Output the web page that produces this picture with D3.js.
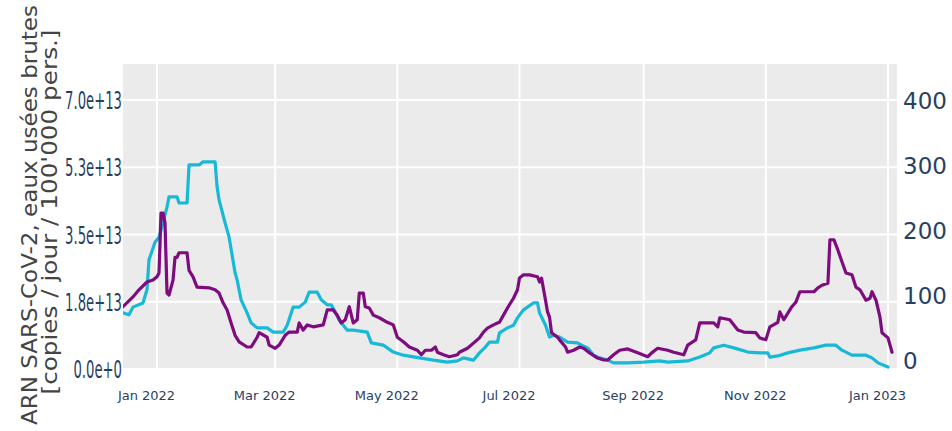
<!DOCTYPE html>
<html><head><meta charset="utf-8">
<script src="https://cdn.jsdelivr.net/npm/d3@7"></script>
<style>body{margin:0;background:#fff}</style>
</head><body>
<svg id="c" width="952" height="431"></svg>
<script>
// ---------- DATA ----------
// Cyan series: SARS-CoV-2 RNA in raw wastewater (left axis, copies/day/100'000)
const rnaDates = [
 "2021-12-15","2021-12-18","2021-12-20","2021-12-25","2021-12-27","2021-12-28","2021-12-31",
 "2022-01-02","2022-01-04","2022-01-06","2022-01-07","2022-01-11","2022-01-12","2022-01-16","2022-01-17","2022-01-22","2022-01-24","2022-01-30","2022-01-31",
 "2022-02-01","2022-02-04","2022-02-06","2022-02-09","2022-02-10","2022-02-12","2022-02-15","2022-02-17","2022-02-20","2022-02-25","2022-02-28",
 "2022-03-05","2022-03-07","2022-03-10","2022-03-13","2022-03-16","2022-03-18","2022-03-22","2022-03-24","2022-03-27","2022-03-29","2022-03-31",
 "2022-04-02","2022-04-06","2022-04-09","2022-04-16","2022-04-18","2022-04-24","2022-04-29",
 "2022-05-04","2022-05-12","2022-05-19","2022-05-26","2022-05-31",
 "2022-06-03","2022-06-08","2022-06-11","2022-06-14","2022-06-16","2022-06-20","2022-06-21","2022-06-25","2022-06-28","2022-06-30",
 "2022-07-03","2022-07-05","2022-07-08","2022-07-10","2022-07-11","2022-07-14","2022-07-16","2022-07-18","2022-07-21","2022-07-25","2022-07-30",
 "2022-08-01","2022-08-04","2022-08-07","2022-08-10","2022-08-14","2022-08-17","2022-08-24",
 "2022-09-01","2022-09-09","2022-09-13","2022-09-23","2022-09-29",
 "2022-10-04","2022-10-06","2022-10-11","2022-10-16","2022-10-23","2022-10-29",
 "2022-11-02","2022-11-03","2022-11-07","2022-11-12","2022-11-18","2022-11-25",
 "2022-12-01","2022-12-06","2022-12-09","2022-12-14","2022-12-21","2022-12-24","2022-12-27",
 "2023-01-01"
];
const rnaValues = [
 1.46e13,1.41e13,1.61e13,1.72e13,2.06e13,2.84e13,3.30e13,
 3.43e13,3.80e13,4.22e13,4.48e13,4.48e13,4.32e13,4.32e13,5.31e13,5.31e13,5.39e13,5.39e13,4.74e13,
 4.40e13,3.80e13,3.43e13,2.50e13,2.32e13,1.80e13,1.46e13,1.20e13,1.07e13,1.07e13,0.96e13,
 0.96e13,1.14e13,1.61e13,1.61e13,1.74e13,2.00e13,2.00e13,1.80e13,1.67e13,1.67e13,1.48e13,
 1.27e13,1.01e13,1.01e13,0.96e13,0.68e13,0.62e13,0.44e13,
 0.36e13,0.29e13,0.23e13,0.18e13,0.21e13,
 0.29e13,0.23e13,0.42e13,0.57e13,0.70e13,0.70e13,0.94e13,1.07e13,1.14e13,1.33e13,
 1.54e13,1.61e13,1.72e13,1.72e13,1.46e13,1.14e13,0.83e13,0.88e13,0.83e13,0.70e13,0.68e13,
 0.62e13,0.55e13,0.36e13,0.29e13,0.23e13,0.16e13,0.16e13,
 0.18e13,0.21e13,0.18e13,0.21e13,0.31e13,
 0.42e13,0.55e13,0.62e13,0.55e13,0.44e13,0.42e13,
 0.42e13,0.31e13,0.34e13,0.42e13,0.49e13,0.55e13,
 0.62e13,0.62e13,0.49e13,0.36e13,0.36e13,0.29e13,0.16e13,
 0.05e13
];
// Purple series: second indicator (right axis)
const caseDates = [
 "2021-12-15","2021-12-20","2021-12-23","2021-12-27","2021-12-30",
 "2022-01-01","2022-01-02","2022-01-03","2022-01-04","2022-01-05","2022-01-06","2022-01-07","2022-01-09","2022-01-10","2022-01-11","2022-01-12","2022-01-16","2022-01-17","2022-01-19","2022-01-21","2022-01-27","2022-01-30",
 "2022-02-01","2022-02-03","2022-02-05","2022-02-07","2022-02-09","2022-02-11","2022-02-15","2022-02-17","2022-02-20","2022-02-21","2022-02-25","2022-02-26",
 "2022-03-01","2022-03-03","2022-03-06","2022-03-08","2022-03-12","2022-03-13","2022-03-15","2022-03-17","2022-03-20","2022-03-25","2022-03-27","2022-03-30",
 "2022-04-01","2022-04-03","2022-04-05","2022-04-07","2022-04-09","2022-04-11","2022-04-12","2022-04-14","2022-04-15","2022-04-17","2022-04-19","2022-04-22","2022-04-26","2022-04-29",
 "2022-05-01","2022-05-04","2022-05-07","2022-05-11","2022-05-13","2022-05-15","2022-05-18","2022-05-20","2022-05-21","2022-05-24","2022-05-27","2022-05-31",
 "2022-06-01","2022-06-05","2022-06-08","2022-06-11","2022-06-13","2022-06-15","2022-06-18","2022-06-20","2022-06-21","2022-06-23","2022-06-25","2022-06-28","2022-06-30",
 "2022-07-01","2022-07-03","2022-07-06","2022-07-10","2022-07-11","2022-07-12","2022-07-14","2022-07-15","2022-07-16","2022-07-17","2022-07-20","2022-07-21","2022-07-24","2022-07-25","2022-07-28","2022-07-31",
 "2022-08-02","2022-08-05","2022-08-09","2022-08-12","2022-08-14","2022-08-17","2022-08-20","2022-08-24","2022-08-29",
 "2022-09-03","2022-09-05","2022-09-08","2022-09-13","2022-09-16","2022-09-21","2022-09-23","2022-09-27","2022-09-29",
 "2022-10-06","2022-10-08","2022-10-09","2022-10-14","2022-10-18","2022-10-21","2022-10-27","2022-10-29",
 "2022-11-01","2022-11-03","2022-11-07","2022-11-08","2022-11-10","2022-11-12","2022-11-14","2022-11-16","2022-11-18","2022-11-25","2022-11-27","2022-11-29",
 "2022-12-02","2022-12-03","2022-12-05","2022-12-07","2022-12-09","2022-12-11","2022-12-14","2022-12-16","2022-12-18","2022-12-21","2022-12-23","2022-12-24","2022-12-26","2022-12-28","2022-12-29",
 "2023-01-01","2023-01-03"
];
const caseValues = [
 82,97,108,120,123,
 128,134,226,226,211,103,100,123,158,158,165,165,138,128,112,111,108,
 103,88,77,57,38,28,20,20,35,42,35,23,
 18,23,38,43,43,57,46,54,51,54,77,77,
 69,57,62,82,57,62,103,103,82,80,69,65,58,54,
 35,28,20,15,8,15,15,20,12,8,5,8,
 12,18,26,34,43,49,54,57,58,69,80,95,108,
 126,131,131,128,120,126,92,74,66,42,35,31,20,12,15,20,
 18,11,3,0,0,8,15,17,11,
 5,11,18,15,12,8,23,31,57,
 57,51,65,62,46,43,42,34,
 31,51,58,74,62,72,82,89,105,105,111,115,
 118,185,185,169,151,134,131,112,108,92,95,105,92,66,42,
 34,12
];
const leftTicks = [0, 1.75e13, 3.5e13, 5.25e13, 7e13];
const leftTickLabels = ["0.0e+0","1.8e+13","3.5e+13","5.3e+13","7.0e+13"];
const rightTicks = [0, 100, 200, 300, 400];
const xTickDates = ["2022-01-01","2022-03-01","2022-05-01","2022-07-01","2022-09-01","2022-11-01","2023-01-01"];
const xTickLabels = ["Jan 2022","Mar 2022","May 2022","Jul 2022","Sep 2022","Nov 2022","Jan 2023"];
const yTitleLines = ["ARN SARS-CoV-2, eaux usées brutes", "[copies / jour / 100'000 pers.]"];

// ---------- LAYOUT ----------
const W = 952, H = 431;
const plot = {left: 123, right: 897, top: 64, bottom: 369};
const parse = d3.utcParse("%Y-%m-%d");
const tickColor = "#2a3f5f";

const x = d3.scaleUtc().domain([parse("2022-01-01"), parse("2023-01-01")]).range([157, 888]);
const yL = d3.scaleLinear().domain([0, 7e13]).range([369, 100]);
const yR = d3.scaleLinear().domain([0, 400]).range([360, 100]);

const svg = d3.select("#c");
svg.append("rect").attr("width", W).attr("height", H).attr("fill", "#fff");
svg.append("defs").append("clipPath").attr("id", "clip")
  .append("rect").attr("x", plot.left).attr("y", plot.top)
  .attr("width", plot.right - plot.left).attr("height", plot.bottom - plot.top);

svg.append("rect").attr("x", plot.left).attr("y", plot.top)
  .attr("width", plot.right - plot.left).attr("height", plot.bottom - plot.top)
  .attr("fill", "#ebebeb");

// grid
const grid = svg.append("g").attr("clip-path", "url(#clip)");
grid.selectAll("line.v").data(xTickDates).join("line")
  .attr("x1", d => x(parse(d))).attr("x2", d => x(parse(d)))
  .attr("y1", plot.top).attr("y2", plot.bottom)
  .attr("stroke", "#fff").attr("stroke-width", 2);
grid.selectAll("line.h").data(leftTicks).join("line")
  .attr("x1", plot.left).attr("x2", plot.right)
  .attr("y1", d => yL(d)).attr("y2", d => yL(d))
  .attr("stroke", "#fff").attr("stroke-width", 2);

// lines
const lines = svg.append("g").attr("clip-path", "url(#clip)");
const rnaData = d3.zip(rnaDates, rnaValues).map(([d, v]) => ({d: parse(d), v}));
const caseData = d3.zip(caseDates, caseValues).map(([d, v]) => ({d: parse(d), v}));
lines.append("path").datum(rnaData)
  .attr("fill", "none").attr("stroke", "#17b9d6").attr("stroke-width", 3.2)
  .attr("stroke-linejoin", "round").attr("stroke-linecap", "round")
  .attr("d", d3.line().x(p => x(p.d)).y(p => yL(p.v)));
lines.append("path").datum(caseData)
  .attr("fill", "none").attr("stroke", "#7e0c7e").attr("stroke-width", 3.2)
  .attr("stroke-linejoin", "round").attr("stroke-linecap", "round")
  .attr("d", d3.line().x(p => x(p.d)).y(p => yR(p.v)));

// left axis
const gL = svg.append("g").attr("transform", `translate(${plot.left - 1},0)`)
  .call(d3.axisLeft(yL).tickValues(leftTicks).tickSize(0).tickPadding(0)
    .tickFormat((d, i) => leftTickLabels[i]));
gL.select(".domain").remove();
gL.selectAll(".tick").each(function () {
  const t = d3.select(this);
  const ty = t.attr("transform");
  t.attr("transform", ty + " scale(0.55,1)");
});
gL.selectAll("text")
  .attr("font-family", "DejaVu Sans, Verdana, sans-serif").attr("font-size", 24)
  .attr("fill", tickColor).attr("x", 0).attr("dy", "0.36em");

// right axis
const gR = svg.append("g").attr("transform", `translate(${plot.right},0)`)
  .call(d3.axisRight(yR).tickValues(rightTicks).tickSize(0).tickPadding(6));
gR.select(".domain").remove();
gR.selectAll("text")
  .attr("font-family", "DejaVu Sans, Verdana, sans-serif").attr("font-size", 23)
  .attr("fill", tickColor).attr("dy", "0.36em");

// bottom axis
const gB = svg.append("g").attr("transform", `translate(0,${plot.bottom})`)
  .call(d3.axisBottom(x).tickValues(xTickDates.map(parse)).tickSize(0).tickPadding(22)
    .tickFormat((d, i) => xTickLabels[i]));
gB.select(".domain").remove();
gB.selectAll("text")
  .attr("font-family", "DejaVu Sans, Verdana, sans-serif").attr("font-size", 13)
  .attr("fill", tickColor).attr("dx", -11);

// y title
const tPos = [{x: 37, y: 215, len: 420}, {x: 57, y: 212, len: 365}];
yTitleLines.forEach((t, i) => {
  svg.append("text")
    .attr("transform", `translate(${tPos[i].x},${tPos[i].y}) rotate(-90)`)
    .attr("text-anchor", "middle")
    .attr("font-family", "DejaVu Sans, Verdana, sans-serif").attr("font-size", 22)
    .attr("fill", "#444")
    .attr("textLength", tPos[i].len).attr("lengthAdjust", "spacingAndGlyphs")
    .text(t);
});
</script>
</body></html>
